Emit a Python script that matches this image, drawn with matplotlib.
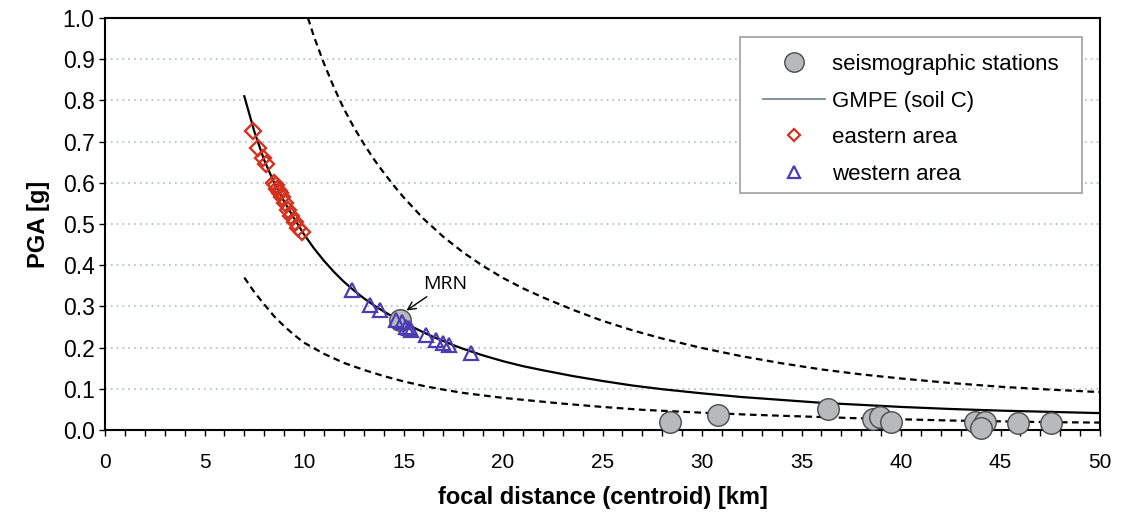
import matplotlib
matplotlib.use("Agg")
import matplotlib.pyplot as plt
from matplotlib.lines import Line2D
from matplotlib.patches import Rectangle

plt.rcParams['font.family'] = ['Liberation Sans', 'DejaVu Sans']

# GMPE median curve (soil C)
gmpe_dist = [7.0, 7.5, 8, 8.5, 9, 9.5, 10, 10.5, 11, 11.5, 12, 12.5, 13, 13.5,
             14, 14.5, 15, 15.5, 16, 16.5, 17, 17.5, 18, 19, 20, 21, 22, 23.5,
             25, 26.5, 28, 30, 32, 34, 36, 38, 40, 42.5, 45, 47.5, 50]
gmpe_pga = [0.81, 0.725, 0.655, 0.60, 0.555, 0.514, 0.475, 0.441, 0.411, 0.384,
            0.36, 0.339, 0.32, 0.303, 0.288, 0.274, 0.262, 0.249, 0.237, 0.226,
            0.216, 0.206, 0.197, 0.181, 0.167, 0.155, 0.145, 0.131, 0.119,
            0.108, 0.099, 0.089, 0.080, 0.073, 0.066, 0.061, 0.056, 0.051,
            0.047, 0.044, 0.041]

# upper and lower bounds (dashed)
upper_dist = [10.2, 10.5, 11, 11.5, 12, 12.5, 13, 13.5, 14, 14.5, 15, 16, 17,
              18, 19, 20, 21, 22, 23.5, 25, 26.5, 28, 30, 32, 34, 36, 38, 40,
              42.5, 45, 47.5, 50]
upper_pga = [1.0, 0.955, 0.89, 0.832, 0.78, 0.735, 0.695, 0.658, 0.625, 0.594,
             0.565, 0.513, 0.469, 0.431, 0.398, 0.369, 0.344, 0.322, 0.292,
             0.265, 0.242, 0.222, 0.199, 0.179, 0.162, 0.147, 0.135, 0.125,
             0.114, 0.105, 0.098, 0.092]
lower_dist = [7, 7.5, 8, 8.5, 9, 9.5, 10, 11, 12, 13, 14, 15, 16, 17, 18, 19,
              20, 21.5, 23, 25, 27, 30, 32.5, 35, 37.5, 40, 42.5, 45, 47.5, 50]
lower_pga = [0.37, 0.335, 0.305, 0.276, 0.252, 0.231, 0.212, 0.185, 0.163,
             0.146, 0.131, 0.118, 0.107, 0.098, 0.09, 0.084, 0.078, 0.071,
             0.064, 0.056, 0.049, 0.042, 0.037, 0.033, 0.029, 0.026, 0.023,
             0.021, 0.019, 0.018]

# recorded values at seismographic stations
station_dist = [14.8, 28.4, 30.8, 36.35, 38.6, 38.95, 39.5, 43.7, 44.2, 44.0,
                45.9, 47.55]
station_pga = [0.267, 0.02, 0.036, 0.05, 0.026, 0.031, 0.019, 0.02, 0.02, 0.004,
               0.018, 0.018]

# estimated PGA, eastern area
east_dist = [7.45, 7.7, 7.95, 8.1, 8.5, 8.6, 8.65, 8.75, 8.8, 8.9, 9.05, 9.2,
             9.35, 9.55, 9.7, 9.9]
east_pga = [0.725, 0.685, 0.66, 0.645, 0.60, 0.595, 0.585, 0.58, 0.575, 0.565,
            0.55, 0.535, 0.52, 0.505, 0.49, 0.48]

# estimated PGA, western area
west_dist = [12.4, 13.3, 13.8, 14.6, 14.9, 15.15, 15.4, 15.3, 16.15, 16.65, 17.0,
             17.3, 18.4]
west_pga = [0.34, 0.303, 0.291, 0.267, 0.263, 0.251, 0.243, 0.247, 0.231, 0.218,
            0.21, 0.206, 0.186]

x_ticks = [0, 5, 10, 15, 20, 25, 30, 35, 40, 45, 50]
y_ticks = [0.0, 0.1, 0.2, 0.3, 0.4, 0.5, 0.6, 0.7, 0.8, 0.9, 1.0]

red = '#d2321e'
blue = '#4c3cb4'
grid_col = '#a9bccb'
W, H = 1122, 512

fig = plt.figure(figsize=(W / 100, H / 100), dpi=100)
ax = fig.add_axes([105 / W, 1 - 430 / H, 995 / W, 412 / H])

for yv in y_ticks[1:-1]:
    ax.axhline(yv, color=grid_col, lw=1.2, ls=(0, (1, 2.5)), zorder=0)

dash = (0, (3, 2))
ax.plot(upper_dist, upper_pga, color='black', lw=1.6, ls=dash, zorder=2)
ax.plot(lower_dist, lower_pga, color='black', lw=1.6, ls=dash, zorder=2)
ax.plot(gmpe_dist, gmpe_pga, color='black', lw=1.6, zorder=2)

ax.plot(station_dist, station_pga, ls='none', marker='o', ms=15.5,
        mfc='#b7b9ba', mec='#4a4a4a', mew=1.0, zorder=3, clip_on=False)
ax.plot(east_dist, east_pga, ls='none', marker='D', ms=8, mfc='none',
        mec=red, mew=1.7, zorder=4)
ax.plot(west_dist, west_pga, ls='none', marker='^', ms=9.5, mfc='none',
        mec=blue, mew=1.6, zorder=4)

ax.annotate('MRN', xy=(15.15, 0.29), xytext=(17.1, 0.354),
            ha='center', va='center', fontsize=14,
            family=['Open Sans', 'DejaVu Sans'],
            arrowprops=dict(arrowstyle='->', color='black', lw=1.0,
                            shrinkA=1, shrinkB=0))

ax.set_xlim(0, 50)
ax.set_ylim(0, 1.0)
ax.set_xticks(x_ticks)
ax.set_xticks(range(0, 51), minor=True)
ax.set_yticks(y_ticks)
ax.set_yticklabels([f'{v:.1f}' for v in y_ticks])
ax.tick_params(axis='x', which='both', direction='out', length=4.5, width=1.0,
               labelsize=15, pad=12)
ax.tick_params(axis='y', which='both', direction='out', length=4.5, width=1.0,
               labelsize=16.5, pad=3)
for sp in ax.spines.values():
    sp.set_linewidth(1.5)

ax.set_xlabel('focal distance (centroid) [km]', fontsize=17,
              fontweight='bold', labelpad=10)
ax.set_ylabel('PGA [g]', fontsize=17, fontweight='bold', labelpad=9)

# legend frame with white background over the grid
frame = Rectangle((740 / W, 1 - 193 / H), 342 / W, 156 / H,
                  transform=fig.transFigure, facecolor='white',
                  edgecolor='#a0a0a0', lw=1.2, zorder=5, clip_on=False)
ax.add_patch(frame)

handles = [
    Line2D([], [], ls='none', marker='o', ms=14, mfc='#b7b9ba', mec='#4a4a4a',
           mew=1.0),
    Line2D([], [], color='#7d8892', lw=1.3),
    Line2D([], [], ls='none', marker='D', ms=6.5, mfc='none', mec=red, mew=1.6),
    Line2D([], [], ls='none', marker='^', ms=8.5, mfc='none', mec=blue,
           mew=1.6),
]
labels = ['seismographic stations', 'GMPE (soil C)', 'eastern area',
          'western area']
leg = ax.legend(handles, labels, loc='upper left',
                bbox_to_anchor=(763 / W, 1 - 54 / H),
                bbox_transform=fig.transFigure, fontsize=16,
                frameon=False, borderpad=0, borderaxespad=0,
                handlelength=2.8, handletextpad=0.3, labelspacing=0.7)
leg.set_zorder(6)

fig.savefig('out.png', dpi=100)
